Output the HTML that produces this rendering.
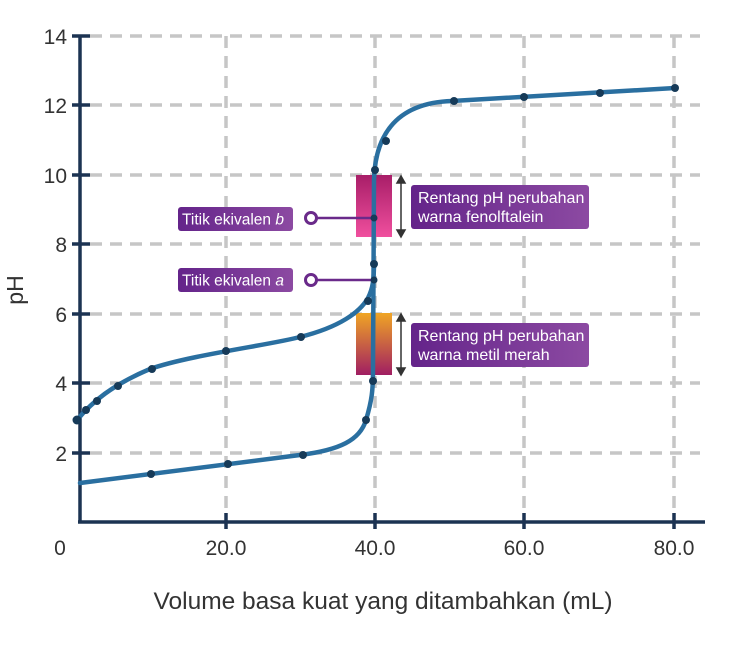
<!DOCTYPE html>
<html><head><meta charset="utf-8"><style>
html,body{margin:0;padding:0;background:#fff;}
svg{display:block;font-family:"Liberation Sans",sans-serif;}
</style></head><body>
<svg width="732" height="659" viewBox="0 0 732 659" xmlns="http://www.w3.org/2000/svg">
<defs>
<linearGradient id="ph" x1="0" y1="0" x2="0" y2="1"><stop offset="0" stop-color="#a81e68"/><stop offset="1" stop-color="#f04f9e"/></linearGradient>
<linearGradient id="mr" x1="0" y1="0" x2="0" y2="1"><stop offset="0" stop-color="#f0a524"/><stop offset="1" stop-color="#a01e62"/></linearGradient>
<linearGradient id="lb" x1="0" y1="0" x2="1" y2="0"><stop offset="0" stop-color="#64248a"/><stop offset="1" stop-color="#8c4aa2"/></linearGradient>
</defs>
<g stroke="#c6c6c6" stroke-width="3.5" stroke-dasharray="12,8" fill="none">
<line x1="90" y1="36" x2="700" y2="36"/><line x1="90" y1="105" x2="700" y2="105"/><line x1="90" y1="175" x2="700" y2="175"/><line x1="90" y1="244" x2="700" y2="244"/><line x1="90" y1="314" x2="700" y2="314"/><line x1="90" y1="383" x2="700" y2="383"/><line x1="90" y1="453" x2="700" y2="453"/>
<line x1="226" y1="36" x2="226" y2="515"/><line x1="375" y1="36" x2="375" y2="515"/><line x1="524" y1="36" x2="524" y2="515"/><line x1="674" y1="36" x2="674" y2="515"/>
</g>
<g stroke="#1c3352" stroke-width="3.5" fill="none">
<line x1="80" y1="36" x2="80" y2="522"/><line x1="78" y1="522" x2="705" y2="522"/>
<line x1="72" y1="36" x2="90" y2="36"/><line x1="72" y1="105" x2="90" y2="105"/><line x1="72" y1="175" x2="90" y2="175"/><line x1="72" y1="244" x2="90" y2="244"/><line x1="72" y1="314" x2="90" y2="314"/><line x1="72" y1="383" x2="90" y2="383"/><line x1="72" y1="453" x2="90" y2="453"/>
<line x1="226" y1="513" x2="226" y2="529"/><line x1="375" y1="513" x2="375" y2="529"/><line x1="524" y1="513" x2="524" y2="529"/><line x1="674" y1="513" x2="674" y2="529"/>
</g>
<g fill="#333" font-size="21" text-anchor="end">
<text x="67" y="44">14</text><text x="67" y="113">12</text><text x="67" y="183">10</text><text x="67" y="252">8</text><text x="67" y="322">6</text><text x="67" y="391">4</text><text x="67" y="461">2</text>
</g>
<g fill="#333" font-size="21" text-anchor="middle">
<text x="60" y="555">0</text><text x="226" y="555">20.0</text><text x="375" y="555">40.0</text><text x="524" y="555">60.0</text><text x="674" y="555">80.0</text>
</g>
<text x="383" y="609" font-size="24.5" fill="#333" text-anchor="middle">Volume basa kuat yang ditambahkan (mL)</text>
<text transform="translate(23,290) rotate(-90)" font-size="23" fill="#333" text-anchor="middle">pH</text>
<rect x="356" y="175" width="36" height="62" fill="url(#ph)"/>
<rect x="356" y="313" width="36" height="62" fill="url(#mr)"/>
<g fill="none" stroke-linecap="round">
<path d="M80,483 L300,455 C340,450 360,440 366,420 C372,400 373,390 373,370 L374,180 C375,140 392,103 452,101 L675,88" stroke="#2a6fa0" stroke-width="4.5"/>
<path d="M77,420 C92,402 112,385 150,369 C190,355 270,345 300,337 C340,327 360,312 368,298 C373,288 374,280 374,262" stroke="#2a6fa0" stroke-width="4.5"/>
</g>
<g fill="#163a58">
<circle cx="151" cy="474" r="4"/><circle cx="228" cy="464" r="4"/><circle cx="303" cy="455" r="4"/><circle cx="366" cy="420" r="4"/><circle cx="373" cy="381" r="4"/><circle cx="375" cy="170" r="4"/><circle cx="386" cy="141" r="4"/><circle cx="454" cy="101" r="4"/><circle cx="524" cy="97" r="4"/><circle cx="600" cy="93" r="4"/><circle cx="675" cy="88" r="4"/>
<circle cx="77" cy="420" r="4.5"/><circle cx="86" cy="410" r="4"/><circle cx="97" cy="401" r="4"/><circle cx="118" cy="386" r="4"/><circle cx="152" cy="369" r="4"/><circle cx="226" cy="351" r="4"/><circle cx="301" cy="337" r="4"/><circle cx="368" cy="301" r="4"/><circle cx="374" cy="264" r="4"/>
</g>
<g stroke="#333" stroke-width="1.5" fill="#333">
<line x1="401" y1="180" x2="401" y2="233"/><path d="M397,183 L401,176 L405,183Z"/><path d="M397,230 L401,237 L405,230Z"/>
<line x1="401" y1="318" x2="401" y2="371"/><path d="M397,321 L401,314 L405,321Z"/><path d="M397,368 L401,375 L405,368Z"/>
</g>
<g stroke="#6a2a8a" stroke-width="2.5"><line x1="311" y1="218" x2="374" y2="218"/><line x1="311" y1="280" x2="374" y2="280"/></g>
<circle cx="374" cy="218" r="3.5" fill="#163a58"/><circle cx="374" cy="280" r="3.5" fill="#163a58"/>
<circle cx="311" cy="218" r="5.5" fill="#fff" stroke="#6a2a8a" stroke-width="3"/>
<circle cx="311" cy="280" r="5.5" fill="#fff" stroke="#6a2a8a" stroke-width="3"/>
<rect x="178" y="207" width="115" height="24" rx="3" fill="url(#lb)"/>
<rect x="178" y="268" width="115" height="24" rx="3" fill="url(#lb)"/>
<g fill="#fff" font-size="15.5">
<text x="182" y="224.5">Titik ekivalen <tspan font-style="italic">b</tspan></text>
<text x="182" y="285.5">Titik ekivalen <tspan font-style="italic">a</tspan></text>
</g>
<rect x="411" y="185" width="178" height="44" rx="3" fill="url(#lb)"/>
<rect x="411" y="323" width="178" height="44" rx="3" fill="url(#lb)"/>
<g fill="#fff" font-size="16">
<text x="418" y="203">Rentang pH perubahan</text><text x="418" y="222">warna fenolftalein</text>
<text x="418" y="341">Rentang pH perubahan</text><text x="418" y="360">warna metil merah</text>
</g>
</svg>
</body></html>
